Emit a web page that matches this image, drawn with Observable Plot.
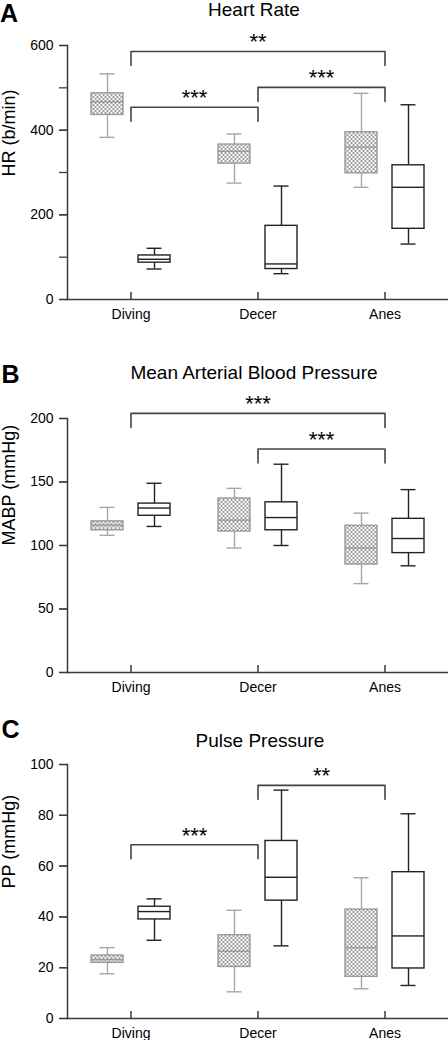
<!DOCTYPE html>
<html><head><meta charset="utf-8">
<script src="https://cdn.jsdelivr.net/npm/d3@7"></script>
<script src="https://cdn.jsdelivr.net/npm/@observablehq/plot@0.6"></script>
<style>
body{margin:0;background:#fff;font-family:"Liberation Sans",Arial,sans-serif;color:#000;}
#root{position:relative;width:448px;height:1040px;overflow:hidden;}
.letter{position:absolute;font-weight:bold;font-size:25px;line-height:1;}
.title{position:absolute;font-size:19px;line-height:1.1;transform:translateX(-50%);white-space:nowrap;}
.plot{position:absolute;left:0;}
</style></head><body>
<svg width="0" height="0" style="position:absolute">
<defs>
<pattern id="checker" width="4" height="4" patternUnits="userSpaceOnUse">
<rect width="4" height="4" fill="#ffffff"/>
<rect width="2" height="2" fill="#9c9c9c"/>
<rect x="2" y="2" width="2" height="2" fill="#9c9c9c"/>
</pattern>
</defs>
</svg>
<div id="root"></div>
<script>
const categories = ["Diving", "Decer", "Anes"];
// five-number summaries per category: [min, q1, median, q3, max]
const hrCheckered   = [[383, 436, 467, 487, 533], [275, 321, 350, 366, 391], [265, 298, 360, 395, 487]];
const hrOpen        = [[72, 87, 95, 104, 121], [61, 72, 84, 174, 268], [131, 167, 265, 317, 460]];
const mabpCheckered = [[108, 112, 116, 119, 130], [98, 111, 120, 137, 145], [70, 85, 98, 115.5, 125.5]];
const mabpOpen      = [[115, 123.4, 129.5, 133, 149], [100, 112, 122, 134, 164], [84, 94, 105.5, 121, 144]];
const ppCheckered   = [[17.6, 21.9, 23.2, 24.8, 27.9], [10.5, 20.3, 26.5, 32.8, 42.6], [11.7, 16.4, 27.9, 42.9, 55.4]];
const ppOpen        = [[30.8, 39, 42.1, 44, 47.1], [28.6, 46.4, 55.6, 69.9, 89.9], [13, 19.7, 32.5, 57.6, 80.6]];
// significance brackets
const hrBrackets   = [{from: "Diving", to: "Anes", y: 586, label: "**"}, {from: "Diving", to: "Decer", y: 454, label: "***"}, {from: "Decer", to: "Anes", y: 501, label: "***"}];
const mabpBrackets = [{from: "Diving", to: "Anes", y: 204, label: "***"}, {from: "Decer", to: "Anes", y: 176, label: "***"}];
const ppBrackets   = [{from: "Diving", to: "Decer", y: 68.4, label: "***"}, {from: "Decer", to: "Anes", y: 91.8, label: "**"}];
// axis ticks
const hrTicks = [0, 100, 200, 300, 400, 500, 600];
const hrTickLabels = [0, 200, 400, 600];
const mabpTicks = [0, 50, 100, 150, 200];
const ppTicks = [0, 20, 40, 60, 80, 100];

const panels = [
  {letter: "A", title: "Heart Rate", ylabel: "HR (b/min)", yMax: 600, ticks: hrTicks, labels: hrTickLabels,
   checkered: hrCheckered, open: hrOpen, brackets: hrBrackets, top: 0, height: 325, mB: 26, labelDy: 4,
   letterTop: 0.5, letterLeft: 0, titleTop: 0, titleX: 254},
  {letter: "B", title: "Mean Arterial Blood Pressure", ylabel: "MABP (mmHg)", yMax: 200, ticks: mabpTicks, labels: mabpTicks,
   checkered: mabpCheckered, open: mabpOpen, brackets: mabpBrackets, top: 373, height: 325, mB: 26, labelDy: 0,
   letterTop: 361.5, letterLeft: 1.5, titleTop: 363, titleX: 254},
  {letter: "C", title: "Pulse Pressure", ylabel: "PP (mmHg)", yMax: 100, ticks: ppTicks, labels: ppTicks,
   checkered: ppCheckered, open: ppOpen, brackets: ppBrackets, top: 719, height: 321, mB: 22, labelDy: -3,
   letterTop: 717, letterLeft: 1.5, titleTop: 731, titleX: 260}
];

const root = document.getElementById("root");
const W = 448, mL = 67, mR = 0, mT = 45;
const axisColor = "#3a3a3a";

function rows(arr) {
  return arr.map((s, i) => ({cat: categories[i], min: s[0], q1: s[1], med: s[2], q3: s[3], max: s[4]}));
}

for (const cfg of panels) {
  const plotH = cfg.height - mT - cfg.mB;
  const step = (W - mL - mR) / categories.length;
  const boxW = 32, off = 23.5, capW = 15;
  const boxInset = (step - boxW) / 2, capInset = (step - capW) / 2;
  const drop = 14 * cfg.yMax / plotH;
  const series = [
    {data: rows(cfg.checkered), dx: -off, stroke: "#9a9a9a", whisker: "#a6a6a6", fill: "url(#checker)"},
    {data: rows(cfg.open), dx: off, stroke: "#222", whisker: "#222", fill: "white"}
  ];
  const marks = [];
  for (const s of series) {
    const sw = 1.4;
    marks.push(Plot.ruleX(s.data, {x: "cat", y1: "min", y2: "q1", dx: s.dx, stroke: s.whisker, strokeWidth: sw}));
    marks.push(Plot.ruleX(s.data, {x: "cat", y1: "q3", y2: "max", dx: s.dx, stroke: s.whisker, strokeWidth: sw}));
    marks.push(Plot.tickY(s.data, {x: "cat", y: "min", dx: s.dx, insetLeft: capInset, insetRight: capInset, stroke: s.whisker, strokeWidth: sw}));
    marks.push(Plot.tickY(s.data, {x: "cat", y: "max", dx: s.dx, insetLeft: capInset, insetRight: capInset, stroke: s.whisker, strokeWidth: sw}));
    marks.push(Plot.barY(s.data, {x: "cat", y1: "q1", y2: "q3", dx: s.dx, insetLeft: boxInset, insetRight: boxInset, fill: s.fill, stroke: s.stroke, strokeWidth: sw}));
    marks.push(Plot.tickY(s.data, {x: "cat", y: "med", dx: s.dx, insetLeft: boxInset, insetRight: boxInset, stroke: s.stroke, strokeWidth: sw}));
  }
  // brackets
  const pts = [];
  cfg.brackets.forEach((b, k) => {
    pts.push({k, x: b.from, y: b.y - drop}, {k, x: b.from, y: b.y}, {k, x: b.to, y: b.y}, {k, x: b.to, y: b.y - drop});
  });
  marks.push(Plot.line(pts, {x: "x", y: "y", z: "k", stroke: "#444", strokeWidth: 1.6}));
  for (const b of cfg.brackets) {
    const gap = categories.indexOf(b.to) - categories.indexOf(b.from);
    marks.push(Plot.text([b], {x: "from", y: "y", text: "label", dx: step * gap / 2, dy: -9, fontSize: 22, fill: "#000"}));
  }
  // axes
  marks.push(Plot.axisY({ticks: cfg.ticks, tickSize: 8, tickFormat: () => "", stroke: axisColor, strokeWidth: 1.3, label: null}));
  marks.push(Plot.axisY({ticks: cfg.labels, tickSize: 8, tickPadding: 6, fontSize: 14, stroke: axisColor, strokeWidth: 1.3, fill: "#000", label: null}));
  marks.push(Plot.axisX({tickSize: 0, tickPadding: 9.5, fontSize: 14, fill: "#000", label: null}));
  marks.push(Plot.ruleX(categories, {insetTop: plotH - 7, stroke: axisColor, strokeWidth: 1.5}));
  marks.push(Plot.frame({anchor: "left", stroke: axisColor, strokeWidth: 1.5}));
  marks.push(Plot.frame({anchor: "bottom", stroke: axisColor, strokeWidth: 1.5}));
  marks.push(Plot.text([cfg.ylabel], {frameAnchor: "left", rotate: -90, dx: -58, dy: cfg.labelDy, fontSize: 18, fill: "#000"}));

  const svg = Plot.plot({
    width: W, height: cfg.height,
    marginLeft: mL, marginRight: mR, marginTop: mT, marginBottom: cfg.mB,
    x: {type: "band", domain: categories, padding: 0},
    y: {domain: [0, cfg.yMax]},
    style: {fontFamily: "'Liberation Sans', Arial, sans-serif", background: "transparent", overflow: "visible", color: "#000"},
    marks
  });
  svg.classList.add("plot");
  svg.style.top = cfg.top + "px";
  root.appendChild(svg);

  const letter = document.createElement("div");
  letter.className = "letter";
  letter.textContent = cfg.letter;
  letter.style.top = cfg.letterTop + "px";
  letter.style.left = cfg.letterLeft + "px";
  root.appendChild(letter);

  const title = document.createElement("div");
  title.className = "title";
  title.textContent = cfg.title;
  title.style.top = cfg.titleTop + "px";
  title.style.left = cfg.titleX + "px";
  root.appendChild(title);
}
</script>
</body></html>
